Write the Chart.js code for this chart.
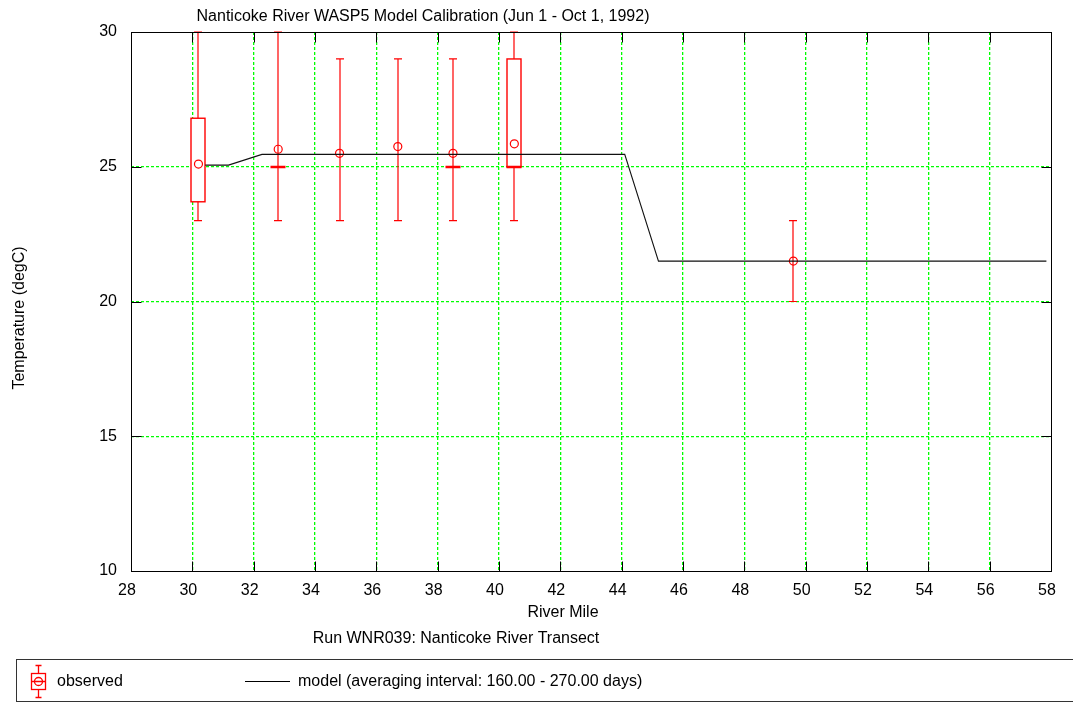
<!DOCTYPE html>
<html>
<head>
<meta charset="utf-8">
<script src="https://cdn.jsdelivr.net/npm/chart.js@4/dist/chart.umd.min.js"></script>
<style>
  html, body { margin: 0; padding: 0; background: #fff; }
  #wrap { width: 1073px; height: 703px; position: relative; }
</style>
</head>
<body>
<div id="wrap"><canvas id="calib-chart"></canvas></div>
<script>
// river mile axis / temperature axis
const xTicks = [28, 30, 32, 34, 36, 38, 40, 42, 44, 46, 48, 50, 52, 54, 56, 58];
const yTicks = [10, 15, 20, 25, 30];

// model (averaging interval 160 - 270 days)
const modelMile = [30.42, 31.18, 32.27, 44.1, 45.2, 57.85];
const modelTemp = [25.06, 25.06, 25.46, 25.46, 21.5, 21.5];

// observed stats per station
const obsMile = [30.2, 32.8, 34.8, 36.7, 38.5, 40.5, 49.6];
const obsMean = [25.1, 25.65, 25.5, 25.75, 25.5, 25.85, 21.5];
const obsMin = [23, 23, 23, 23, 23, 23, 20];
const obsMax = [30, 30, 29, 29, 29, 30, 23];
const obsQ1 = [23.7, 25, null, null, 25, 25, null];
const obsQ3 = [26.8, 25, null, null, 25, 29, null];
const obsMedian = [null, 25, null, null, 25, 25, null];

const FONT = "'Liberation Sans', Arial, sans-serif";
const RED = "#ff0000";
const GREEN = "#00ff00";

const chartEl = document.getElementById("calib-chart");

// whiskers + boxes, placed with the chart's own scales
const boxPlugin = {
  id: "boxWhiskers",
  beforeDatasetsDraw(chart) {
    const ctx = chart.ctx;
    const xs = chart.scales.x;
    const ys = chart.scales.y;
    ctx.save();
    ctx.strokeStyle = RED;
    ctx.fillStyle = RED;
    for (let i = 0; i < obsMile.length; i++) {
      const px = Math.round(xs.getPixelForValue(obsMile[i]));
      const top = ys.getPixelForValue(obsMax[i]);
      const bot = ys.getPixelForValue(obsMin[i]);
      ctx.lineWidth = 1.2;
      ctx.beginPath();
      ctx.moveTo(px, top);
      ctx.lineTo(px, bot);
      ctx.moveTo(px - 4, top);
      ctx.lineTo(px + 4, top);
      ctx.moveTo(px - 4, bot);
      ctx.lineTo(px + 4, bot);
      ctx.stroke();
      if (obsQ1[i] !== null && obsQ1[i] !== obsQ3[i]) {
        const q3 = ys.getPixelForValue(obsQ3[i]);
        const q1 = ys.getPixelForValue(obsQ1[i]);
        ctx.fillStyle = "#fff";
        ctx.fillRect(px - 7, q3, 14, q1 - q3);
        ctx.fillStyle = RED;
        ctx.lineWidth = 1.4;
        ctx.strokeRect(px - 7, q3, 14, q1 - q3);
      }
      if (obsMedian[i] !== null) {
        const md = ys.getPixelForValue(obsMedian[i]);
        ctx.fillRect(px - 7.5, md - 1, 15, 2.5);
      }
    }
    ctx.restore();
  },
  afterDraw(chart) {
    const ctx = chart.ctx;
    const a = chart.chartArea;
    const xs = chart.scales.x;
    const ys = chart.scales.y;
    ctx.save();

    // frame + inward tick marks
    ctx.strokeStyle = "#000";
    ctx.lineWidth = 1;
    const L = Math.round(a.left) + 0.5, R = Math.round(a.right) + 0.5;
    const T = Math.round(a.top) + 0.5, B = Math.round(a.bottom) + 0.5;
    ctx.strokeRect(L, T, R - L, B - T);
    ctx.beginPath();
    xTicks.forEach((v) => {
      const p = Math.round(xs.getPixelForValue(v)) + 0.5;
      ctx.moveTo(p, B); ctx.lineTo(p, B - 10);
      ctx.moveTo(p, T); ctx.lineTo(p, T + 10);
    });
    yTicks.forEach((v) => {
      const p = Math.round(ys.getPixelForValue(v)) + 0.5;
      ctx.moveTo(L, p); ctx.lineTo(L + 10, p);
      ctx.moveTo(R, p); ctx.lineTo(R - 10, p);
    });
    ctx.stroke();

    // texts
    ctx.fillStyle = "#000";
    ctx.font = "16px " + FONT;
    ctx.textBaseline = "alphabetic";
    ctx.textAlign = "center";
    ctx.fillText("Nanticoke River WASP5 Model Calibration (Jun 1 - Oct 1, 1992)", 423, 21);
    ctx.fillText("River Mile", 563, 617);
    ctx.fillText("Run WNR039: Nanticoke River Transect", 456, 643);

    ctx.save();
    ctx.translate(24, 318);
    ctx.rotate(-Math.PI / 2);
    ctx.fillText("Temperature (degC)", 0, 0);
    ctx.restore();

    // legend
    ctx.strokeStyle = "#333";
    ctx.strokeRect(16.5, 659.5, 1080, 42);
    ctx.textAlign = "left";
    ctx.fillText("observed", 57, 686);
    ctx.fillText("model (averaging interval: 160.00 - 270.00 days)", 298, 686);

    ctx.strokeStyle = "#000";
    ctx.beginPath();
    ctx.moveTo(245, 681.5);
    ctx.lineTo(290, 681.5);
    ctx.stroke();

    ctx.strokeStyle = RED;
    ctx.lineWidth = 1.3;
    const ix = 38.5;
    ctx.beginPath();
    ctx.moveTo(ix, 665); ctx.lineTo(ix, 673.5);
    ctx.moveTo(ix, 689.5); ctx.lineTo(ix, 697);
    ctx.moveTo(ix - 3, 665.5); ctx.lineTo(ix + 3, 665.5);
    ctx.moveTo(ix - 3, 697.5); ctx.lineTo(ix + 3, 697.5);
    ctx.moveTo(ix - 7, 681.5); ctx.lineTo(ix + 7, 681.5);
    ctx.stroke();
    ctx.strokeRect(ix - 7, 673.5, 14, 16);
    ctx.beginPath();
    ctx.arc(ix, 681.5, 4, 0, Math.PI * 2);
    ctx.stroke();

    ctx.restore();
  },
};

function gridColor(edgeMin, edgeMax) {
  return (c) => {
    const v = c.tick ? c.tick.value : null;
    if (v === edgeMin || v === edgeMax) return "rgba(0,0,0,0)";
    return GREEN;
  };
}

const chart = new Chart(chartEl, {
  type: "scatter",
  data: {
    datasets: [
      {
        label: "model",
        data: modelMile.map((m, i) => ({ x: m, y: modelTemp[i] })),
        showLine: true,
        borderColor: "#111",
        borderWidth: 1.1,
        pointRadius: 0,
        fill: false,
      },
      {
        label: "observed",
        data: obsMile.map((m, i) => ({ x: m, y: obsMean[i] })),
        showLine: false,
        pointStyle: "circle",
        pointRadius: 4,
        borderColor: RED,
        borderWidth: 1.2,
        backgroundColor: "rgba(0,0,0,0)",
      },
    ],
  },
  options: {
    responsive: true,
    maintainAspectRatio: false,
    animation: false,
    layout: { padding: { top: 32, right: 22, left: 0, bottom: 0 } },
    plugins: {
      legend: { display: false },
      title: { display: false },
      tooltip: { enabled: false },
    },
    scales: {
      x: {
        type: "linear",
        min: 28,
        max: 58,
        afterFit: (s) => { s.height = 132; },
        afterBuildTicks: (s) => { s.ticks = xTicks.map((v) => ({ value: v })); },
        ticks: {
          color: "#000",
          font: { family: FONT, size: 16 },
          padding: 10,
          labelOffset: -4,
          maxRotation: 0,
          autoSkip: false,
        },
        grid: { color: gridColor(28, 58), drawTicks: false, lineWidth: 1.3 },
        border: { display: false, dash: [3, 2] },
      },
      y: {
        type: "linear",
        min: 10,
        max: 30,
        afterFit: (s) => { s.width = 131; },
        afterBuildTicks: (s) => { s.ticks = yTicks.map((v) => ({ value: v })); },
        ticks: {
          color: "#000",
          font: { family: FONT, size: 16 },
          padding: 14,
        },
        grid: { color: gridColor(10, 30), drawTicks: false, lineWidth: 1.3 },
        border: { display: false, dash: [3, 2] },
      },
    },
  },
  plugins: [boxPlugin],
});
</script>
</body>
</html>
